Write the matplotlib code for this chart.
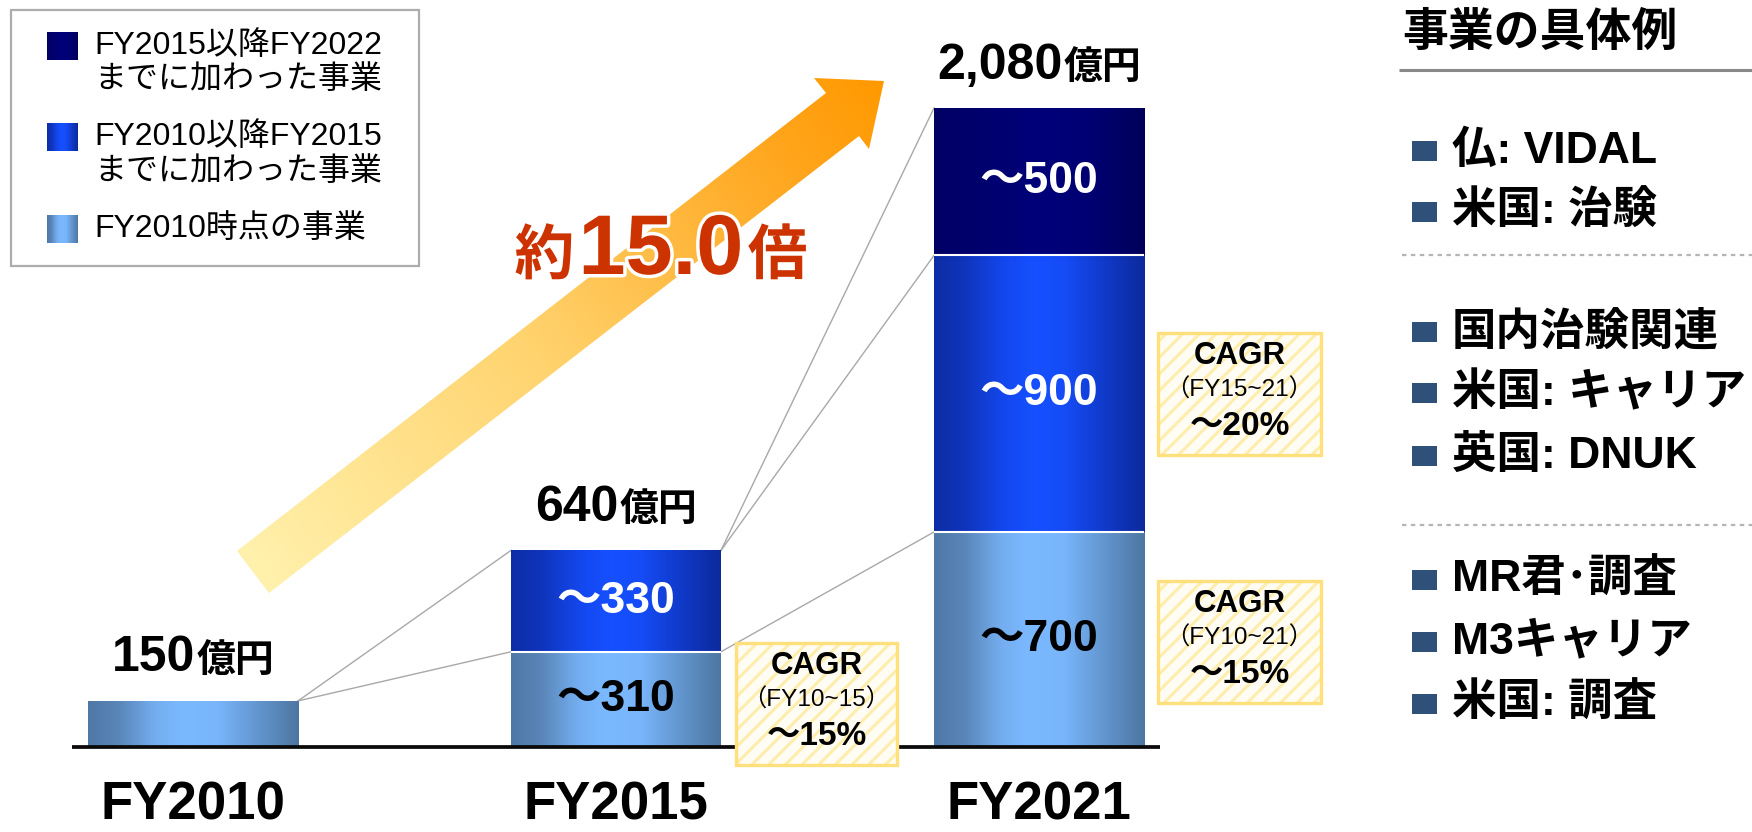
import numpy as np
import matplotlib
matplotlib.use("Agg")
import matplotlib.pyplot as plt
from matplotlib.colors import LinearSegmentedColormap
from matplotlib.patches import Polygon, Rectangle
from matplotlib.offsetbox import TextArea, HPacker, AnnotationBbox
import matplotlib.patheffects as pe

FONTS = ["Liberation Sans", "Noto Sans CJK JP", "DejaVu Sans"]
plt.rcParams["font.family"] = FONTS
plt.rcParams["hatch.linewidth"] = 2.2

# ---------------- data ----------------
years = ["FY2010", "FY2015", "FY2021"]
base_business = [150, 310, 700]        # FY2010時点の事業
added_2010_2015 = [0, 330, 900]        # FY2010以降FY2015までに加わった事業
added_2015_2022 = [0, 0, 480]          # FY2015以降FY2022までに加わった事業
totals = [150, 640, 2080]
total_labels = ["150", "640", "2,080"]
base_labels = ["", "～310", "～700"]
added_2010_2015_labels = ["", "～330", "～900"]
added_2015_2022_labels = ["", "", "～500"]
unit_label = "億円"

legend_labels = [
    ["FY2015以降FY2022", "までに加わった事業"],
    ["FY2010以降FY2015", "までに加わった事業"],
    ["FY2010時点の事業"],
]

cagr_periods = ["（FY10~15）", "（FY15~21）", "（FY10~21）"]
cagr_values = ["～15%", "～20%", "～15%"]
growth_prefix, growth_multiple, growth_suffix = "約", "15.0", "倍"

example_title = "事業の具体例"
example_groups = [
    ["仏: VIDAL", "米国: 治験"],
    ["国内治験関連", "米国: キャリア", "英国: DNUK"],
    ["MR君･調査", "M3キャリア", "米国: 調査"],
]

# ---------------- figure ----------------
W, H, DPI = 1752, 832, 100
fig = plt.figure(figsize=(W / DPI, H / DPI), dpi=DPI)
fig.patch.set_facecolor("white")

CAT_PX = 423.0      # pixels between category centres
FIRST_PX = 193.0    # centre of the first category
BASE_PX = 85.0      # baseline height above bottom edge
UNIT_PX = 0.3072    # pixels per 億円
bar_w = 210.0 / CAT_PX

ax = fig.add_axes([0, 0, 1, 1])
ax.set_axis_off()
xlim = (-FIRST_PX / CAT_PX, (W - FIRST_PX) / CAT_PX)
ylim = (-BASE_PX / UNIT_PX, (H - BASE_PX) / UNIT_PX)

cm_base = LinearSegmentedColormap.from_list("base", [
    (0.0, "#4E78A6"), (0.14, "#5985B7"), (0.32, "#74AEF0"), (0.45, "#7BB9FF"),
    (0.62, "#78B5FA"), (0.80, "#6397D0"), (1.0, "#4D76A2")])
cm_mid = LinearSegmentedColormap.from_list("mid", [
    (0.0, "#0D2DA5"), (0.15, "#0F35BD"), (0.35, "#1449F2"), (0.48, "#1650FF"),
    (0.62, "#154CF6"), (0.85, "#0F36BF"), (1.0, "#0C2A9C")])
cm_top = LinearSegmentedColormap.from_list("top", [
    (0.0, "#000064"), (0.5, "#00007A"), (0.75, "#000072"), (1.0, "#00005A")])

grad = np.linspace(0, 1, 256)[None, :]
x = np.arange(len(years))

layers = [
    (base_business, cm_base, base_labels, "#000000"),
    (added_2010_2015, cm_mid, added_2010_2015_labels, "white"),
    (added_2015_2022, cm_top, added_2015_2022_labels, "white"),
]
values = np.array([np.asarray(l[0], float) for l in layers])
cum = np.cumsum(values, axis=0)

bottom = np.zeros(len(years))
for vals, cmap, labels, tcolor in layers:
    vals = np.asarray(vals, float)
    bars = ax.bar(x, vals, bar_w, bottom=bottom, color="none", linewidth=0, zorder=2)
    for xi, rect, v, b, lab in zip(x, bars.patches, vals, bottom, labels):
        if v <= 0:
            continue
        im = ax.imshow(grad, cmap=cmap, aspect="auto", interpolation="bicubic",
                       extent=(xi - bar_w / 2, xi + bar_w / 2, b, b + v), zorder=2)
        im.set_clip_path(rect)
        if lab:
            ax.text(xi, b + v / 2, lab, ha="center", va="center", fontsize=32,
                    fontweight="bold", color=tcolor, zorder=5)
    bottom = bottom + vals

# white separators between stacked segments
for i in x:
    for k in range(len(layers) - 1):
        if values[k, i] > 0 and values[k + 1, i] > 0:
            ax.plot([i - bar_w / 2, i + bar_w / 2], [cum[k, i]] * 2, color="white",
                    lw=1.5, zorder=3, solid_capstyle="butt")

# grey connectors from one bar to the next
for i in x[:-1]:
    present = [k for k in range(len(layers)) if values[k, i] > 0]
    kmax = present[-1]
    xl, xr = i + bar_w / 2, i + 1 - bar_w / 2
    pairs = [(totals[i], totals[i + 1])]
    if cum[kmax, i + 1] < totals[i + 1]:
        pairs.append((totals[i], cum[kmax, i + 1]))
    for k in present[:-1]:
        pairs.append((cum[k, i], cum[k, i + 1]))
    for ya, yb in pairs:
        ax.plot([xl, xr], [ya, yb], color="#A8A8A8", lw=1.0, zorder=1)

# baseline
ax.plot([(72 - FIRST_PX) / CAT_PX, (1160 - FIRST_PX) / CAT_PX], [0, 0],
        color="#0A0A0A", lw=2.7, solid_capstyle="butt", zorder=4)

# totals above bars
for xi, t, lab in zip(x, totals, total_labels):
    num = TextArea(lab, textprops=dict(fontsize=36, fontweight="bold", color="black"))
    unit = TextArea(unit_label, textprops=dict(fontsize=28, fontweight="bold", color="black"))
    pack = HPacker(children=[num, unit], align="baseline", pad=0, sep=1)
    ab = AnnotationBbox(pack, (xi, t), xybox=(0, 14.0), xycoords="data",
                        boxcoords="offset points", box_alignment=(0.5, 0),
                        frameon=False, pad=0, zorder=5)
    ax.add_artist(ab)

# category labels
for xi, yr in zip(x, years):
    ax.annotate(yr, (xi, 0), xytext=(0, -52.5), textcoords="offset points",
                ha="center", va="baseline", fontsize=38, fontweight="bold")

# ---------------- overlay (pixel coordinates) ----------------
ov = fig.add_axes([0, 0, 1, 1])
ov.set_axis_off()
ov.set_facecolor("none")

# growth arrow
arrow_pts = np.array([(237, 551), (826, 93), (814, 78), (884, 81),
                      (869, 149), (859, 136), (269, 593)], float)
poly = Polygon(arrow_pts, closed=True, facecolor="none", edgecolor="none")
ov.add_patch(poly)
tail = arrow_pts[[0, 6]].mean(axis=0)
tip = arrow_pts[3]
u = tip - tail
L = np.hypot(*u)
u = u / L
xa, xb, ya, yb = 225, 895, 70, 605
gx, gy = np.meshgrid(np.linspace(xa, xb, 450), np.linspace(ya, yb, 360))
tt = np.clip(((gx - tail[0]) * u[0] + (gy - tail[1]) * u[1]) / L, 0, 1)
cm_arrow = LinearSegmentedColormap.from_list("arrow", [
    (0.0, "#FFF1AC"), (0.45, "#FFD36E"), (0.85, "#FFA51C"), (1.0, "#FF9900")])
im = ov.imshow(tt, cmap=cm_arrow, vmin=0, vmax=1, extent=(xa, xb, yb, ya),
               origin="upper", aspect="auto", interpolation="bilinear", zorder=1)
im.set_clip_path(poly)

red = "#CC3300"
stroke = [pe.withStroke(linewidth=5, foreground="white")]
parts = [
    TextArea(growth_prefix, textprops=dict(fontsize=43, fontweight="bold", color=red, path_effects=stroke)),
    TextArea(growth_multiple, textprops=dict(fontsize=61, fontweight="bold", color=red, path_effects=stroke)),
    TextArea(growth_suffix, textprops=dict(fontsize=43, fontweight="bold", color=red, path_effects=stroke)),
]
pack = HPacker(children=parts, align="baseline", pad=0, sep=3)
ov.add_artist(AnnotationBbox(pack, (661, 292), xycoords="data", box_alignment=(0.5, 0),
                             frameon=False, pad=0, zorder=3))

# legend
ov.add_patch(Rectangle((11, 10), 408, 256, facecolor="white", edgecolor="#ADADAD",
                       lw=1.6, zorder=6))
sw_cmaps = [cm_top, cm_mid, cm_base]
sw_centers = [46, 137, 229]
line_centers = [[46, 80], [137, 172], [229]]
for cmap, cy, lines, lcs in zip(sw_cmaps, sw_centers, legend_labels, line_centers):
    ov.imshow(grad, cmap=cmap, extent=(47, 78, cy + 14, cy - 14), aspect="auto",
              interpolation="bicubic", zorder=7)
    for txt, ly in zip(lines, lcs):
        ov.text(94, ly, txt, ha="left", va="center", fontsize=23, color="black", zorder=7)

# CAGR boxes
cagr_boxes = [(736, 643, 897, 765), (1158, 333, 1321, 455), (1158, 581, 1321, 703)]
for (x0, y0, x1, y1), per, val in zip(cagr_boxes, cagr_periods, cagr_values):
    ov.add_patch(Rectangle((x0, y0), x1 - x0, y1 - y0, facecolor="#FFFDF3",
                           edgecolor="#FFEDAE", lw=0, hatch="//", zorder=6))
    ov.add_patch(Rectangle((x0, y0), x1 - x0, y1 - y0, fill=False,
                           edgecolor="#FFE07C", lw=2.4, zorder=7))
    cx, h = (x0 + x1) / 2, y1 - y0
    ov.text(cx, y0 + 0.19 * h, "CAGR", ha="center", va="center", fontsize=22.5,
            fontweight="bold", zorder=8)
    ov.text(cx, y0 + 0.47 * h, per, ha="center", va="center", fontsize=17.5, zorder=8)
    ov.text(cx, y0 + 0.77 * h, val, ha="center", va="center", fontsize=24,
            fontweight="bold", zorder=8)

# examples panel
ov.text(1402, 34, example_title, ha="left", va="center", fontsize=33, fontweight="bold")
ov.plot([1399, W], [70, 70], color="#888888", lw=2.2, solid_capstyle="butt")
item_ys = [[151, 212], [332, 393, 456], [580, 642, 704]]
sep_ys = [255, 525]
for group, ys in zip(example_groups, item_ys):
    for txt, yy in zip(group, ys):
        ov.add_patch(Rectangle((1412, yy - 10), 25, 20, facecolor="#2F5078", edgecolor="none"))
        ov.text(1452, yy, txt, ha="left", va="center", fontsize=32, fontweight="bold")
for sy in sep_ys:
    ov.plot([1402, W], [sy, sy], color="#B5B5B5", lw=1.6, linestyle=(0, (2, 2)))

ax.set_xlim(*xlim)
ax.set_ylim(*ylim)
ov.set_xlim(0, W)
ov.set_ylim(H, 0)

fig.savefig("out.png", dpi=DPI, facecolor="white")
